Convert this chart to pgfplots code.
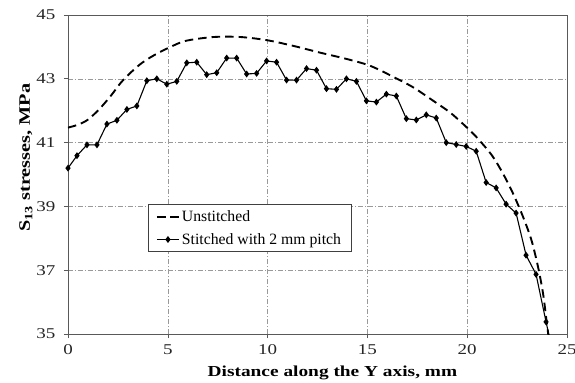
\documentclass[border=0pt]{standalone}
\usepackage{fontspec}
\setmainfont{Liberation Serif}
\newfontfamily\widefont[FakeStretch=1.27]{Liberation Serif}
\usepackage{pgfplots}
\pgfplotsset{compat=1.18}
\begin{document}
\begin{tikzpicture}
\begin{axis}[
  scale only axis, width=499bp, height=319bp,
  xmin=0, xmax=25, ymin=35, ymax=45,
  xtick={0,5,...,25}, ytick={35,37,...,45},
  /pgf/number format/assume math mode=true,
  tick label style={font=\widefont\fontsize{15}{17}\selectfont, text=black!85},
  xticklabel style={yshift=-3bp},
  yticklabel style={xshift=-5bp},
  xlabel={Distance along the Y axis, mm},
  ylabel={S\textsubscript{13} stresses, MPa},
  xlabel style={font=\widefont\fontsize{15.3}{17}\selectfont\bfseries, at={(axis description cs:0.53,-0.1223)}, anchor=center},
  ylabel style={font=\widefont\fontsize{16}{18}\selectfont\bfseries, at={(axis description cs:-0.0842,0.553)}, anchor=center},
  axis line style={black!65, line width=0.9pt},
  tick align=outside, tick style={black!65, line width=0.6pt}, major tick length=4bp,
  xtick pos=bottom, ytick pos=left,
  grid=major,
  grid style={black!40, line width=0.5pt, dash pattern=on 5bp off 2bp on 1bp off 2bp},
  legend style={at={(axis cs:3.99,39.06)}, anchor=north west, draw=black!75, line width=0.8pt,
    font=\fontsize{15.8}{17}\selectfont, inner xsep=8bp, inner ysep=4bp, row sep=6bp, cells={anchor=west}},
  legend cell align=left,
  legend image code/.code={\draw[#1, mark repeat=2, mark phase=2] plot coordinates {(0bp,0bp) (11bp,0bp) (22bp,0bp)};},
]
\addplot[black, line width=1.9pt, dash pattern=on 8.5bp off 5bp, smooth, tension=0.5] coordinates {
(0,41.47) (0.5,41.56) (1,41.72) (1.57,42.05) (2.15,42.47) (2.65,42.88) (3.15,43.2) (3.73,43.51)
(4.4,43.77) (5.07,43.98) (5.9,44.19) (7.3,44.31) (8.63,44.31) (9.97,44.21) (11.3,44.03)
(12.63,43.82) (13.97,43.62) (15.13,43.41) (16.3,43.06) (17.3,42.73) (18.3,42.31) (19.13,41.95)
(19.8,41.58) (20.47,41.17) (21.25,40.59) (21.8,40.02) (22.3,39.4) (22.8,38.67) (23.22,37.94)
(23.55,37.1) (23.8,36.27) (23.97,35.44) (24.08,34.9)
};
\addlegendentry{Unstitched}
\addplot[black, line width=1.1pt, mark=diamond*, mark size=2.6pt, mark options={solid}] coordinates {
(0,40.2) (0.45,40.59) (0.95,40.93) (1.45,40.93) (1.95,41.58) (2.45,41.7) (2.95,42.04) (3.45,42.15)
(3.95,42.94) (4.45,43.0) (4.95,42.83) (5.45,42.92) (5.95,43.5) (6.45,43.52) (6.95,43.13) (7.45,43.19)
(7.95,43.65) (8.45,43.65) (8.95,43.15) (9.45,43.17) (9.95,43.56) (10.45,43.52) (10.95,42.96) (11.45,42.96)
(11.95,43.32) (12.45,43.27) (12.95,42.69) (13.45,42.67) (13.95,43.0) (14.45,42.92) (14.95,42.31) (15.45,42.27)
(15.95,42.52) (16.45,42.46) (16.95,41.75) (17.45,41.71) (17.95,41.87) (18.45,41.77) (18.95,41.0) (19.45,40.94)
(19.95,40.88) (20.45,40.73) (20.95,39.75) (21.45,39.58) (21.95,39.07) (22.45,38.79) (22.95,37.47) (23.45,36.87)
(23.95,35.38) (24.12,34.9)
};
\addlegendentry{Stitched with 2 mm pitch}
\end{axis}
\pgfresetboundingbox
\path ([xshift=-68bp,yshift=-49bp]current axis.south west) rectangle ([xshift=8bp,yshift=15bp]current axis.north east);
\end{tikzpicture}
\end{document}
